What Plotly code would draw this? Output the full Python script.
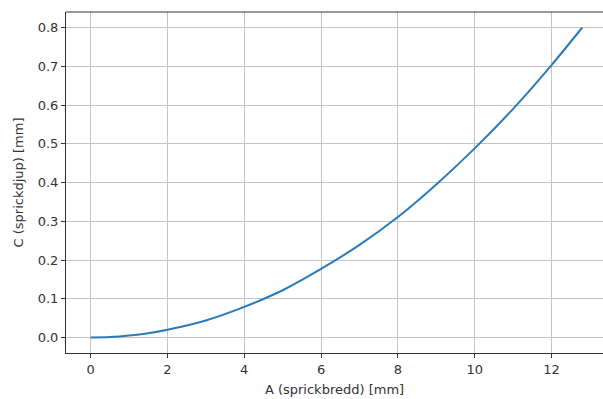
import plotly.graph_objects as go

# Data
crack_width_mm = [0, 0.5, 1, 1.5, 2, 3, 4, 5, 6, 7, 8, 9, 10, 11, 12, 12.8]
crack_depth_mm = [0.0, 0.0012, 0.005, 0.011, 0.020, 0.044, 0.079, 0.122, 0.177, 0.239, 0.311, 0.395, 0.488, 0.590, 0.703, 0.800]

x_ticks = [0, 2, 4, 6, 8, 10, 12]
y_ticks = [0.0, 0.1, 0.2, 0.3, 0.4, 0.5, 0.6, 0.7, 0.8]

fig = go.Figure()
fig.add_trace(go.Scatter(
    x=crack_width_mm, y=crack_depth_mm, mode="lines",
    line=dict(color="#2b7bba", width=2, shape="spline", smoothing=0.8),
    showlegend=False,
))

font = dict(family="DejaVu Sans", size=13, color="#333333")

fig.update_layout(
    width=603, height=399,
    margin=dict(l=66, r=0, t=12, b=46),
    paper_bgcolor="white", plot_bgcolor="white",
    font=font,
)
fig.update_xaxes(
    range=[-0.64, 13.34], tickvals=x_ticks, ticktext=[str(v) for v in x_ticks],
    showgrid=True, gridcolor="#c4c4c4", gridwidth=1,
    showline=True, linecolor="#333333", linewidth=1, mirror=False,
    ticks="outside", ticklen=4, tickcolor="#333333",
    zeroline=False,
    title=dict(text="A (sprickbredd) [mm]", font=font, standoff=9),
)
fig.update_yaxes(
    range=[-0.04, 0.84], tickvals=y_ticks, ticktext=[f"{v:.1f}" for v in y_ticks],
    showgrid=True, gridcolor="#c4c4c4", gridwidth=1,
    showline=True, linecolor="#333333", linewidth=1, mirror=False,
    ticks="outside", ticklen=4, tickcolor="#333333",
    zeroline=False,
    title=dict(text="C (sprickdjup) [mm]", font=font, standoff=11),
)
# top spine
fig.add_shape(type="line", xref="paper", yref="paper", x0=0, x1=1, y0=1, y1=1,
              line=dict(color="#333333", width=1))

fig.write_html("out.html")
